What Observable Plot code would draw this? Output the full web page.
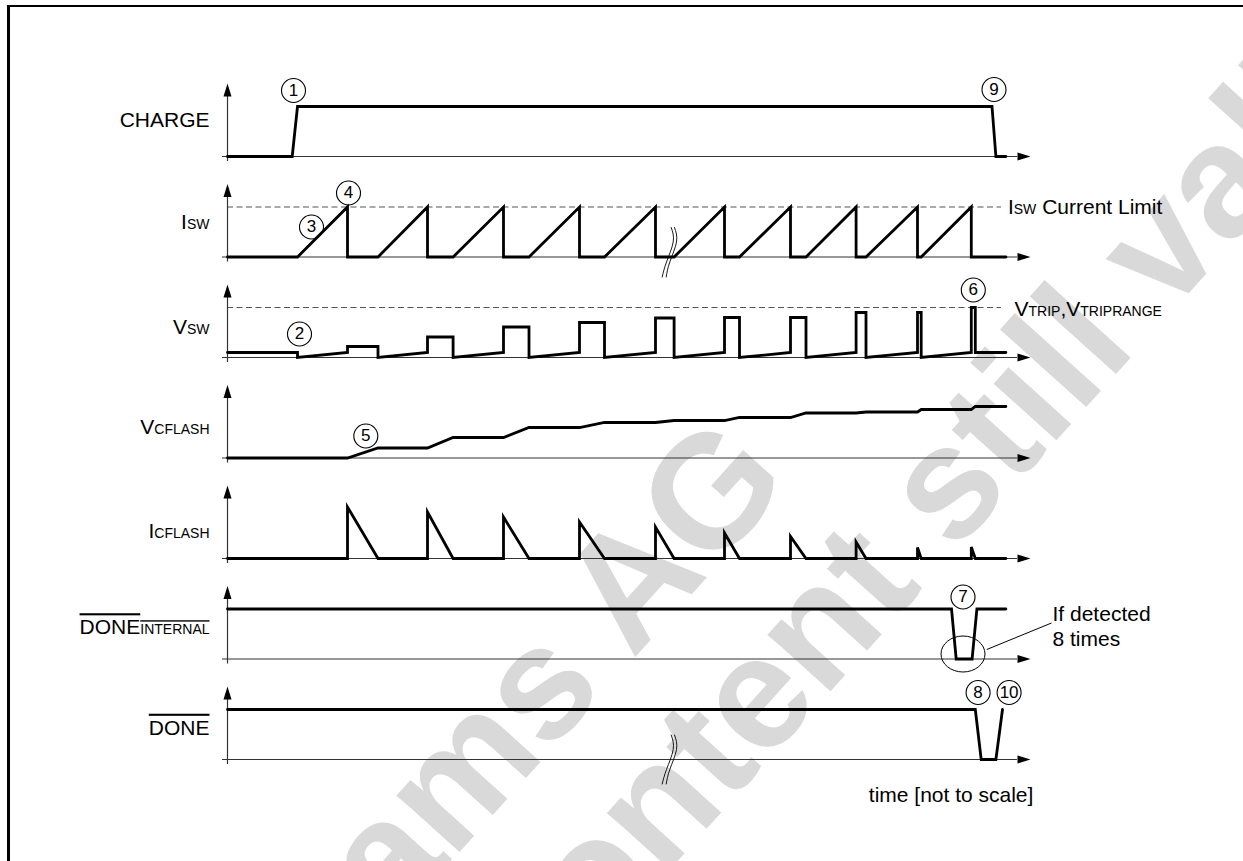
<!DOCTYPE html>
<html>
<head>
<meta charset="utf-8">
<script src="https://cdn.jsdelivr.net/npm/d3@7"></script>
<script src="https://cdn.jsdelivr.net/npm/@observablehq/plot@0.6"></script>
<style>
  html, body { margin: 0; padding: 0; background: #fff; overflow: hidden; width: 1243px; height: 861px; }
  #chart { position: absolute; left: 0; top: 0; width: 1243px; height: 861px; overflow: hidden; }
  #chart svg { display: block; }
  #frameTop { position: absolute; left: 7px; top: 5px; width: 1236px; height: 2px; background: #000; pointer-events: none; }
  #frameLeft { position: absolute; left: 7px; top: 5px; width: 2.5px; height: 856px; background: #000; pointer-events: none; }
</style>
</head>
<body>
<div id="chart"></div>
<div id="frameTop"></div>
<div id="frameLeft"></div>
<script>
// ---------- rows (signals) and their labels ----------
const rowNames   = ["CHARGE", "ISW", "VSW", "VCFLASH", "ICFLASH", "DONEINT", "DONE"];
const rowLabels  = ["CHARGE", "I|SW", "V|SW", "V|CFLASH", "I|CFLASH", "DONE|INTERNAL", "DONE"];
const labelLevel = [0.72, 0.69, 0.6, 0.62, 0.54, 0.63, 0.63];

// ---------- signal traces: time (not to scale) and level ----------
const chargeT = [0, 64.7, 70, 764.5, 768.4, 778.4];
const chargeV = [0, 0, 1, 1, 0, 0];

const iswT = [0, 70, 120, 120, 150.5, 200, 200, 225.6, 276, 276, 301.5, 352, 352, 377, 428, 428, 446.6, 497, 497, 512, 563, 563, 578.5, 628.6, 628.6, 638.5, 690, 690, 693.7, 743.8, 743.8, 778.4];
const iswV = [0, 0, 1, 0, 0, 1, 0, 0, 1, 0, 0, 1, 0, 0, 1, 0, 0, 1, 0, 0, 1, 0, 0, 1, 0, 0, 1, 0, 0, 1, 0, 0];

const vswT = [0, 70, 70, 120, 120, 150.5, 150.5, 200, 200, 225.6, 225.6, 276, 276, 301.5, 301.5, 352, 352, 377, 377, 428, 428, 446.6, 446.6, 497, 497, 512, 512, 563, 563, 578.5, 578.5, 628.6, 628.6, 638.5, 638.5, 690, 690, 693.7, 693.7, 743.8, 743.8, 747.8, 747.8, 778.4];
const vswV = [0.1, 0.1, 0, 0.1, 0.22, 0.22, 0, 0.1, 0.41, 0.41, 0, 0.1, 0.61, 0.61, 0, 0.1, 0.7, 0.7, 0, 0.1, 0.79, 0.79, 0, 0.1, 0.8, 0.8, 0, 0.1, 0.8, 0.8, 0, 0.1, 0.9, 0.9, 0, 0.1, 0.9, 0.9, 0, 0.1, 1.0, 1.0, 0.1, 0.1];

const vcfT = [0, 120, 150.5, 200, 225.6, 276, 301.5, 352, 377, 428, 446.6, 497, 512, 563, 578.5, 628.6, 638.5, 690, 693.7, 743.8, 747.8, 778.4];
const vcfV = [0, 0, 0.2, 0.2, 0.41, 0.41, 0.61, 0.61, 0.71, 0.71, 0.75, 0.75, 0.81, 0.81, 0.9, 0.9, 0.92, 0.92, 0.97, 0.97, 1.03, 1.03];

const icfT = [0, 120, 120, 150.5, 200, 200, 225.6, 276, 276, 301.5, 352, 352, 377, 428, 428, 446.6, 497, 497, 512, 563, 563, 578.5, 628.6, 628.6, 638.5, 690, 690, 693.7, 743.8, 743.8, 747.8, 778.4];
const icfV = [0, 0, 1.03, 0, 0, 0.93, 0, 0, 0.83, 0, 0, 0.73, 0, 0, 0.63, 0, 0, 0.51, 0, 0, 0.44, 0, 0, 0.33, 0, 0, 0.22, 0, 0, 0.23, 0, 0];

const doneIntT = [0, 724, 728.7, 744.6, 749.4, 778.4];
const doneIntV = [1, 1, 0, 0, 1, 1];

const doneT = [0, 747.8, 753.7, 768.4, 775];
const doneV = [1, 1, 0, 0, 1];

// ---------- reference (dashed) levels ----------
const limitRows  = ["ISW", "VSW"];
const limitLevel = 1;
const limitEndT  = 774;

// ---------- "not to scale" break marks ----------
const breakRows = ["ISW", "ISW", "DONE", "DONE"];
const breakT = [[443.7, 445.7, 439, 434.7], [447, 449, 442.3, 438.7], [443.7, 445.7, 439, 434.7], [447, 449, 442.3, 438.7]];
const breakV = [[0.59, 0.3, -0.1, -0.4], [0.59, 0.3, -0.1, -0.4], [0.49, 0.2, -0.2, -0.49], [0.49, 0.2, -0.2, -0.49]];

// ---------- circled step numbers ----------
const stepRow   = ["CHARGE", "CHARGE", "ISW", "ISW", "VSW", "VSW", "VCFLASH", "DONEINT", "DONE", "DONE"];
const stepT     = [66, 766.5, 121, 84, 72, 745.8, 138.3, 735.5, 750.6, 781.6];
const stepLevel = [1.32, 1.34, 1.28, 0.6, 0.47, 1.35, 0.44, 1.24, 1.34, 1.34];
const stepLabel = ["1", "9", "4", "3", "2", "6", "5", "7", "8", "10"];

// ---------- annotations ----------
const noteRow   = ["ISW", "VSW", "DONEINT", "DONE"];
const noteText  = ["I|SW| Current Limit", "V|TRIP|,V|TRIPRANGE", "If detected\n8 times", "time [not to scale]"];
const noteT     = [780.4, 787, 825, 641.3];
const noteLevel = [1.03, 1.0, 0.67, -0.69];

const watermarkText = ["ams AG", "content still valid"];

// ---------- tables built from the arrays ----------
const signals = [
  ["CHARGE", chargeT, chargeV], ["ISW", iswT, iswV], ["VSW", vswT, vswV],
  ["VCFLASH", vcfT, vcfV], ["ICFLASH", icfT, icfV], ["DONEINT", doneIntT, doneIntV], ["DONE", doneT, doneV]
];
const traces = signals.flatMap(([row, T, V]) => T.map((t, i) => ({row, t, v: V[i]})));
const labels = rowNames.map((row, i) => ({row, text: rowLabels[i], v: labelLevel[i]}));
const breaks = breakRows.flatMap((row, k) => breakT[k].map((t, i) => ({row, id: k, t, v: breakV[k][i]})));
const steps = stepRow.map((row, i) => ({row, t: stepT[i], v: stepLevel[i], label: stepLabel[i]}));
const notes = noteRow.map((row, i) => ({row, text: noteText[i], t: noteT[i], v: noteLevel[i]}));
const watermark = watermarkText.map((text, i) => ({row: "CHARGE", text, t: [165, 310][i], v: [-15.4, -17.2][i]}));

// ---------- custom symbols ----------
const arrowUp = {draw(c) { c.moveTo(0, 0); c.lineTo(4, 13); c.lineTo(-4, 13); c.closePath(); }};
const arrowRight = {draw(c) { c.moveTo(0, 0); c.lineTo(-13, 4); c.lineTo(-13, -4); c.closePath(); }};
const ellipseSym = {draw(c) {
  const rx = 22, ry = 18, k = 0.5523;
  c.moveTo(rx, 0);
  c.bezierCurveTo(rx, ry * k, rx * k, ry, 0, ry);
  c.bezierCurveTo(-rx * k, ry, -rx, ry * k, -rx, 0);
  c.bezierCurveTo(-rx, -ry * k, -rx * k, -ry, 0, -ry);
  c.bezierCurveTo(rx * k, -ry, rx, -ry * k, rx, 0);
  c.closePath();
}};

const font = "'Liberation Sans', Arial, Helvetica, sans-serif";

const svg = Plot.plot({
  width: 1243,
  height: 861,
  marginLeft: 227,
  marginRight: 213,
  marginTop: 70.5,
  marginBottom: 87,
  x: {domain: [0, 803], axis: null},
  y: {domain: [-0.3, 1.71], axis: null},
  fy: {domain: rowNames, axis: null, padding: 0, round: false},
  style: {fontFamily: font, background: "white", overflow: "hidden", maxWidth: "none"},
  marks: [
    // watermark
    Plot.text(watermark, {fy: "row", x: "t", y: "v", text: "text", rotate: -48, textAnchor: "start",
      lineAnchor: "bottom", fontSize: 160, fontWeight: "bold", fill: "#d9d9d9"}),
    // dashed limit lines
    Plot.ruleY(limitRows, {fy: d => d, y: limitLevel, x1: 0, x2: limitEndT, stroke: "#555", strokeWidth: 1, strokeDasharray: "6,3.5"}),
    // axes
    Plot.ruleY(rowNames, {fy: d => d, y: 0, x1: -5, x2: 790, stroke: "#333", strokeWidth: 1.2}),
    Plot.ruleX(rowNames, {fy: d => d, x: 0, y1: -0.1, y2: 1.22, stroke: "#333", strokeWidth: 1.2}),
    Plot.dot(rowNames, {fy: d => d, x: 0, y: 1.46, symbol: arrowUp, fill: "black", stroke: "none"}),
    Plot.dot(rowNames, {fy: d => d, x: 803, y: 0, symbol: arrowRight, fill: "black", stroke: "none"}),
    // traces
    Plot.line(traces, {fy: "row", z: "row", x: "t", y: "v", stroke: "black", strokeWidth: 2.8,
      strokeLinejoin: "miter", strokeMiterlimit: 6, curve: "linear"}),
    // break marks
    Plot.line(breaks, {fy: "row", z: "id", x: "t", y: "v", stroke: "black", strokeWidth: 0.9, curve: "natural"}),
    // circled step numbers
    Plot.dot(steps, {fy: "row", x: "t", y: "v", r: 12, stroke: "black", strokeWidth: 1.1, fill: "none"}),
    Plot.text(steps, {fy: "row", x: "t", y: "v", text: "label", fontSize: 17, lineAnchor: "middle", fill: "black"}),
    // detection ellipse + leader
    Plot.dot(["DONEINT"], {fy: d => d, x: 735.5, y: 0.1, symbol: ellipseSym, fill: "none", stroke: "black", strokeWidth: 1}),
    Plot.link(["DONEINT"], {fy: d => d, x1: 759.3, y1: 0.19, x2: 824, y2: 0.72, stroke: "black", strokeWidth: 1}),
    // row labels
    Plot.text(labels, {fy: "row", x: 0, y: "v", text: "text", textAnchor: "end", dx: -18, fontSize: 21, lineAnchor: "middle", fill: "black"}),
    // annotations
    Plot.text(notes, {fy: "row", x: "t", y: "v", text: "text", textAnchor: "start", fontSize: 21, lineHeight: 1.19, lineAnchor: "middle", fill: "black"})
  ]
});

// mixed-size subscripts and overlines on the labels
const NS = "http://www.w3.org/2000/svg";
for (const t of svg.querySelectorAll("text")) {
  const s = t.textContent;
  if (s.includes("|") && !t.querySelector("tspan")) {
    const parts = s.split("|");
    t.textContent = "";
    parts.forEach((p, i) => {
      const ts = document.createElementNS(NS, "tspan");
      ts.textContent = p;
      if (i % 2 === 1) ts.setAttribute("font-size", "14");
      t.appendChild(ts);
    });
  }
  if (s === "DONE" || s.startsWith("DONE|")) t.setAttribute("text-decoration", "overline");
}

document.getElementById("chart").appendChild(svg);
</script>
</body>
</html>
